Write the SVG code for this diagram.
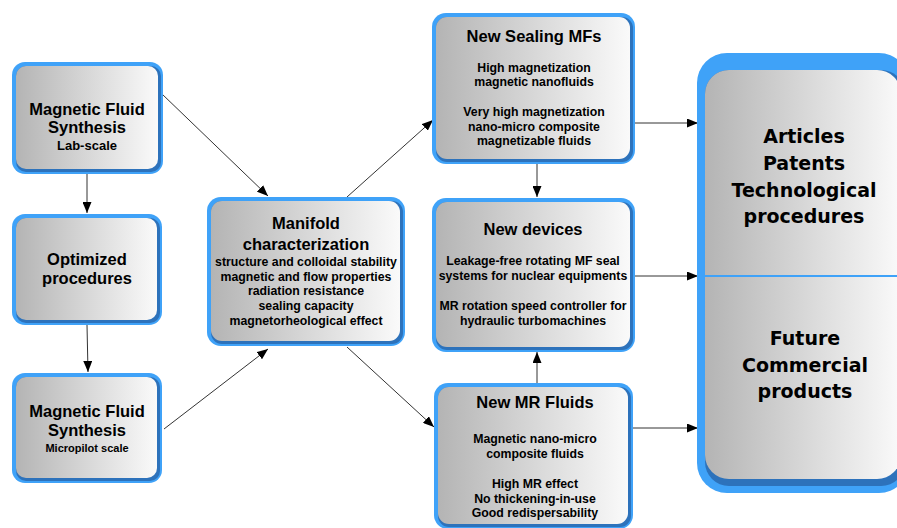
<svg xmlns="http://www.w3.org/2000/svg" width="897" height="528" viewBox="0 0 897 528">
<style>
.outer{fill:#3fa2f8}
.shade{fill:#2d72bb}
.inner{fill:url(#g)}
.h{font-family:"Liberation Sans",Arial,sans-serif;font-weight:bold;font-size:16.5px;fill:#000;text-anchor:middle}
.s{font-family:"Liberation Sans",Arial,sans-serif;font-weight:bold;font-size:12.3px;fill:#000;text-anchor:middle}
.b{font-family:"DejaVu Sans",Verdana,sans-serif;font-weight:bold;font-size:19px;fill:#000;text-anchor:middle}
.c{stroke:#333;stroke-width:1;fill:none;marker-end:url(#ah)}
</style>
<defs>
<linearGradient id="g" x1="0" y1="0" x2="1" y2="0">
<stop offset="0" stop-color="#b4b4b4"/>
<stop offset="1" stop-color="#fafafa"/>
</linearGradient>
<marker id="ah" markerUnits="userSpaceOnUse" markerWidth="11" markerHeight="9" refX="11" refY="4.5" orient="auto">
<path d="M0,0 L11,4.5 L0,9 z" fill="#000"/>
</marker>
</defs>
<rect width="897" height="528" fill="#fff"/>

<g id="connectors">
<line class="c" x1="87" y1="174" x2="87" y2="213"/>
<line class="c" x1="87" y1="325" x2="88" y2="372"/>
<line class="c" x1="162" y1="94" x2="268" y2="196"/>
<line class="c" x1="164" y1="429" x2="268" y2="349"/>
<line class="c" x1="347" y1="197" x2="433" y2="120"/>
<line class="c" x1="347" y1="347" x2="434" y2="427"/>
<line class="c" x1="537" y1="164" x2="537" y2="197"/>
<line class="c" x1="537" y1="383" x2="537" y2="352"/>
<line class="c" x1="635" y1="123" x2="698" y2="123"/>
<line class="c" x1="635" y1="276" x2="698" y2="276"/>
<line class="c" x1="633" y1="428" x2="698" y2="428"/>
</g>

<g id="synthesis-lab">
<rect class="outer" x="12" y="62" width="151" height="112" rx="13"/>
<rect class="shade" x="16" y="66" width="145" height="106" rx="10"/>
<rect class="inner" x="16" y="66" width="142" height="103" rx="10"/>
<text class="h" x="87" y="115">Magnetic Fluid</text>
<text class="h" x="87" y="133">Synthesis</text>
<text class="s" x="87" y="150" style="font-size:13px">Lab-scale</text>
</g>

<g id="optimized">
<rect class="outer" x="12" y="214" width="150" height="111" rx="13"/>
<rect class="shade" x="16" y="218" width="144" height="105" rx="10"/>
<rect class="inner" x="16" y="218" width="141" height="102" rx="10"/>
<text class="h" x="87" y="265">Optimized</text>
<text class="h" x="87" y="284">procedures</text>
</g>

<g id="synthesis-micropilot">
<rect class="outer" x="12" y="373" width="150" height="110" rx="13"/>
<rect class="shade" x="16" y="377" width="144" height="104" rx="10"/>
<rect class="inner" x="16" y="377" width="141" height="101" rx="10"/>
<text class="h" x="87" y="417">Magnetic Fluid</text>
<text class="h" x="87" y="436">Synthesis</text>
<text class="s" x="87" y="452" style="font-size:11px">Micropilot scale</text>
</g>

<g id="manifold">
<rect class="outer" x="207" y="197" width="198" height="149" rx="14"/>
<rect class="shade" x="211" y="201" width="192" height="143" rx="11"/>
<rect class="inner" x="211" y="201" width="189" height="140" rx="11"/>
<text class="h" x="306" y="229">Manifold</text>
<text class="h" x="306" y="250">characterization</text>
<text class="s" x="306" y="266">structure and colloidal stability</text>
<text class="s" x="306" y="281">magnetic and flow properties</text>
<text class="s" x="306" y="295">radiation resistance</text>
<text class="s" x="306" y="310">sealing capacity</text>
<text class="s" x="306" y="325">magnetorheological effect</text>
</g>

<g id="sealing">
<rect class="outer" x="432" y="13" width="203" height="151" rx="14"/>
<rect class="shade" x="436" y="17" width="197" height="145" rx="11"/>
<rect class="inner" x="436" y="17" width="194" height="142" rx="11"/>
<text class="h" x="534" y="42">New Sealing MFs</text>
<text class="s" x="534" y="72">High magnetization</text>
<text class="s" x="534" y="86">magnetic nanofluids</text>
<text class="s" x="534" y="116">Very high magnetization</text>
<text class="s" x="534" y="131">nano-micro composite</text>
<text class="s" x="534" y="145">magnetizable fluids</text>
</g>

<g id="devices">
<rect class="outer" x="432" y="198" width="203" height="154" rx="14"/>
<rect class="shade" x="436" y="202" width="197" height="148" rx="11"/>
<rect class="inner" x="436" y="202" width="194" height="145" rx="11"/>
<text class="h" x="533" y="235">New devices</text>
<text class="s" x="533" y="265">Leakage-free rotating MF seal</text>
<text class="s" x="533" y="280">systems for nuclear equipments</text>
<text class="s" x="533" y="310">MR rotation speed controller for</text>
<text class="s" x="533" y="325">hydraulic turbomachines</text>
</g>

<g id="mr-fluids">
<rect class="outer" x="434" y="383" width="199" height="146" rx="14"/>
<rect class="shade" x="438" y="387" width="193" height="140" rx="11"/>
<rect class="inner" x="438" y="387" width="190" height="137" rx="11"/>
<text class="h" x="535" y="408">New MR Fluids</text>
<text class="s" x="535" y="443">Magnetic nano-micro</text>
<text class="s" x="535" y="458">composite fluids</text>
<text class="s" x="535" y="488">High MR effect</text>
<text class="s" x="535" y="503">No thickening-in-use</text>
<text class="s" x="535" y="517">Good redispersability</text>
</g>

<g id="outcomes">
<rect class="outer" x="697" y="53" width="212" height="440" rx="30"/>
<rect class="shade" x="705" y="70" width="200" height="416" rx="24"/>
<rect class="inner" x="705" y="70" width="196" height="409" rx="24"/>
<line x1="705" y1="276" x2="897" y2="276" stroke="#3fa2f8" stroke-width="2"/>
<text class="b" x="804" y="143">Articles</text>
<text class="b" x="804" y="170">Patents</text>
<text class="b" x="804" y="197">Technological</text>
<text class="b" x="804" y="223">procedures</text>
<text class="b" x="805" y="345">Future</text>
<text class="b" x="805" y="372">Commercial</text>
<text class="b" x="805" y="398">products</text>
</g>
</svg>
